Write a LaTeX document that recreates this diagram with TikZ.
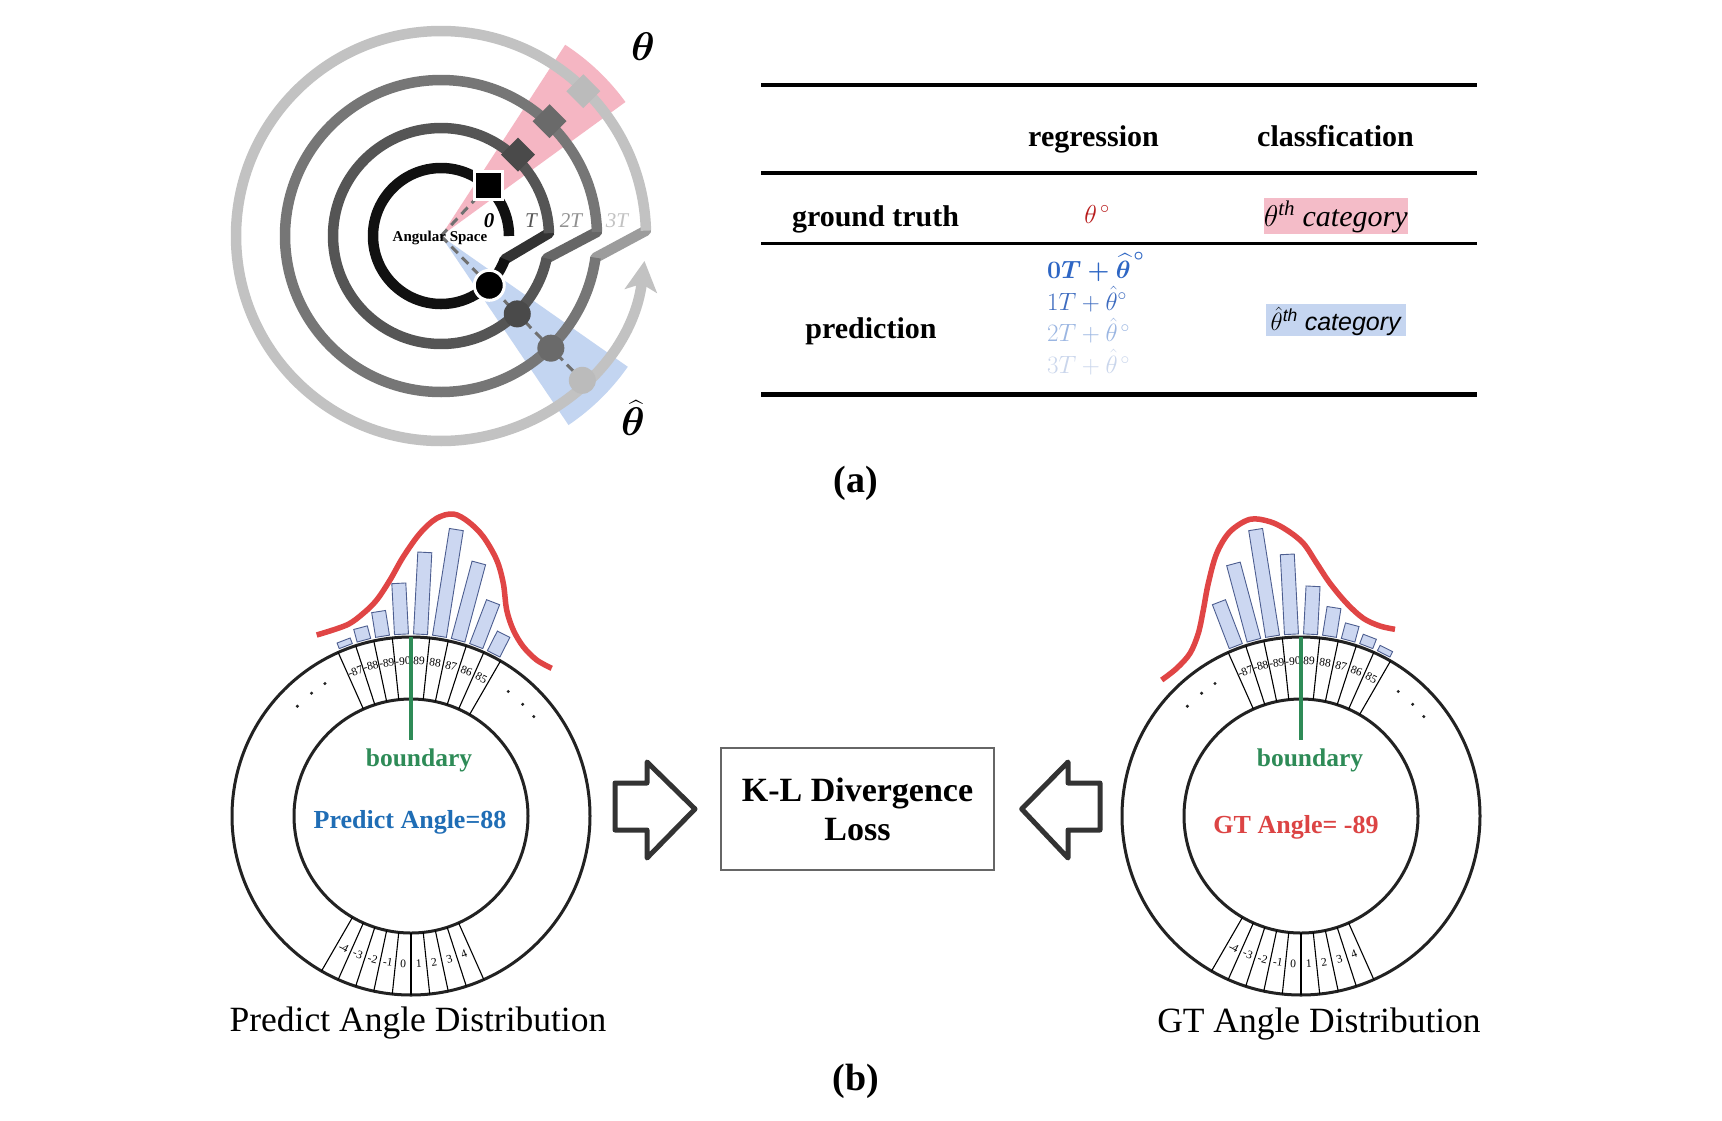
\RequirePackage{fix-cm}
\documentclass[tikz,border=0pt]{standalone}
\usepackage{amsmath}
\usepackage{fontspec}
\setmainfont{Liberation Serif}
\newfontfamily\sansf{Liberation Sans}
\usetikzlibrary{arrows.meta}
\definecolor{g0}{HTML}{111111}
\definecolor{g1}{HTML}{555555}
\definecolor{g2}{HTML}{767676}
\definecolor{g3}{HTML}{C2C2C2}
\definecolor{g01}{HTML}{333333}
\definecolor{g12}{HTML}{666666}
\definecolor{g23}{HTML}{9C9C9C}
\definecolor{g1m}{HTML}{4A4A4A}
\definecolor{g2m}{HTML}{6A6A6A}
\definecolor{g3m}{HTML}{BBBBBB}
\definecolor{wedgepink}{HTML}{F5B6C3}
\definecolor{wedgeblue}{HTML}{C3D5F1}
\definecolor{dashgray}{HTML}{707070}
\definecolor{thetared}{HTML}{B81C1C}
\definecolor{predA}{HTML}{2E66C4}
\definecolor{predB}{HTML}{3E6CC0}
\definecolor{predC}{HTML}{9BB6E2}
\definecolor{predD}{HTML}{CAD6EC}
\definecolor{pinkbox}{HTML}{F4BCC8}
\definecolor{bluebox}{HTML}{C5D5F0}
\definecolor{ringcol}{HTML}{222222}
\definecolor{barfill}{HTML}{CCD7F1}
\definecolor{baredge}{HTML}{4D5E90}
\definecolor{curvered}{HTML}{E04545}
\definecolor{bndgreen}{HTML}{2E8B57}
\definecolor{predblue}{HTML}{1F6DB5}
\definecolor{gtred}{HTML}{DC4444}
\definecolor{klgray}{HTML}{666666}
\definecolor{arrowgray}{HTML}{333333}
\tikzset{
  ringw/.style={line width=10.5},
  dashln/.style={draw=dashgray, line width=3, dash pattern=on 9pt off 6pt},
  sqm/.style={rectangle, inner sep=0, minimum size=24, draw=none},
  circm/.style={circle, inner sep=0, minimum size=27, draw=none},
  spiralab/.style={font=\fontsize{21}{21}\selectfont\itshape, inner sep=0},
  rule/.style={line width=4, draw=black},
  hdr/.style={font=\fontsize{30}{30}\selectfont\bfseries, anchor=base, inner sep=0},
  mathl/.style={font=\fontsize{25}{25}\selectfont, anchor=base west, inner sep=0},
  ringln/.style={line width=3, draw=ringcol},
  spoke/.style={line width=1.1, draw=black},
  celllab/.style={font=\fontsize{11.5}{11.5}\selectfont, inner sep=0},
  histbar/.style={fill=barfill, draw=baredge, line width=0.9},
  redcurve/.style={draw=curvered, line width=5.5},
  greenln/.style={draw=bndgreen, line width=4.8},
  blockarrow/.style={draw=arrowgray, line width=5, line join=round, fill=white},
}
\newcommand{\distring}[4]{%
\begin{scope}[shift={(#1,-#2)}]
\foreach \a/\L in {#3}{\draw[histbar, rotate=\a-90] (-7,182) rectangle (7,182+\L);}
\draw[ringln] (0,0) circle[radius=179];
\draw[ringln] (0,0) circle[radius=117];
\foreach \a in {60,66,...,114}{\draw[spoke] (\a:117) -- (\a:179);}
\foreach \a in {240,246,...,294}{\draw[spoke] (\a:117) -- (\a:179);}
\foreach \a/\lab in {111/-87,105/-88,99/-89,93/-90,87/89,81/88,75/87,69/86,63/85}{\node[celllab, rotate=\a-90] (#4t\a) at (\a:155) {\lab};}
\foreach \a/\lab in {243/-4,249/-3,255/-2,261/-1,267/0,273/1,279/2,285/3,291/4}{\node[celllab, rotate=\a-270] (#4b\a) at (\a:148) {\lab};}
\foreach \a in {123,129,136,39,45,52}{\fill[ringcol] (\a:158) circle[radius=1.7];}
\draw[greenln] (0,179) -- (0,76);
\end{scope}}
\begin{document}
\begin{tikzpicture}[x=1pt,y=1pt]
\fill[white] (0,0) rectangle (1722,-1120);
\path[use as bounding box] (0,0) rectangle (1722,-1120);

% ================= (a) spiral =================
\begin{scope}[shift={(441,-236)}]
\fill[wedgepink] (0,0) -- (36:228) arc[start angle=36,end angle=57,radius=228] -- cycle;
\fill[wedgeblue] (0,0) -- (-56:228) arc[start angle=-56,end angle=-35,radius=228] -- cycle;
\draw[dashln] (0,0) -- (47:58);
\draw[dashln] (0,0) -- (-45.6:201);
\draw[ringw, draw=g01, line cap=round] (340:68) -- (1.5:108);
\draw[ringw, draw=g12, line cap=round] (348:108) -- (1.5:156);
\draw[ringw, draw=g23, line cap=round] (352:156) -- (1.5:205);
\draw[ringw, draw=g0] (0:68) arc[start angle=0,end angle=340,radius=68];
\draw[ringw, draw=g1] (1.5:108) arc[start angle=1.5,end angle=348,radius=108];
\draw[ringw, draw=g2] (1.5:156) arc[start angle=1.5,end angle=352,radius=156];
\draw[ringw, draw=g3, -{Stealth[length=30pt,width=32pt,inset=7pt]}] (1.5:205) arc[start angle=1.5,end angle=353,radius=205];
\node[rectangle, inner sep=0, minimum size=28, fill=black, draw=white, line width=3] (sq0) at (47:69.6) {};
\node[sqm, fill=g1m, rotate=45] (sq1) at (46.6:112) {};
\node[sqm, fill=g2m, rotate=45] (sq2) at (46.6:158) {};
\node[sqm, fill=g3m, rotate=45] (sq3) at (45.5:203) {};
\node[circle, inner sep=0, minimum size=30, fill=black, draw=white, line width=3] (ci0) at (-45.6:69) {};
\node[circm, fill=g1m] (ci1) at (-45.6:109) {};
\node[circm, fill=g2m] (ci2) at (-45.6:157) {};
\node[circm, fill=g3m] (ci3) at (-45.6:202) {};
\end{scope}
\node[spiralab, text=black, font=\fontsize{21}{21}\selectfont\bfseries\itshape] (l0) at (489,-221) {0};
\node[spiralab, text=g1] (l1) at (531,-221) {T};
\node[spiralab, text=g2!80] (l2) at (571,-221) {2T};
\node[spiralab, text=g3] (l3) at (617,-221) {3T};
\node[font=\fontsize{15}{15}\selectfont\bfseries, inner sep=0] (as) at (440,-238) {Angular Space};
\node[font=\fontsize{40}{40}\selectfont, inner sep=0] (th) at (643,-47) {$\boldsymbol{\theta}$};
\node[font=\fontsize{40}{40}\selectfont, inner sep=0] (thh) at (633,-418) {$\boldsymbol{\widehat{\theta}}$};

% ================= (a) table =================
\draw[rule] (761,-85) -- (1477,-85);
\draw[rule] (761,-172.7) -- (1477,-172.7);
\draw[rule, line width=2.7] (761,-243.3) -- (1477,-243.3);
\draw[rule, line width=4.5] (761,-394.3) -- (1477,-394.3);
\node[hdr] (hreg) at (1093.5,-146) {regression};
\node[hdr] (hcls) at (1335.5,-146) {classfication};
\node[hdr] (hgt) at (875.5,-226) {ground truth};
\node[hdr] (hpr) at (871,-338) {prediction};
\node[font=\fontsize{26}{26}\selectfont, anchor=base, inner sep=0, text=thetared] (gtv) at (1097,-223) {$\theta^{\,\circ}$};
\node[mathl, text=predA] (m0) at (1047,-278.3) {$\boldsymbol{0T+\widehat{\theta}}^{\,\boldsymbol{\circ}}$};
\node[mathl, text=predB] (m1) at (1047,-310) {$1T+\hat{\theta}^{\circ}$};
\node[mathl, text=predC] (m2) at (1047,-341.7) {$2T+\hat{\theta}^{\,\circ}$};
\node[mathl, text=predD] (m3) at (1047,-373.3) {$3T+\hat{\theta}^{\,\circ}$};
\node[anchor=base, fill=pinkbox, minimum width=140, inner xsep=0, inner ysep=0, text height=28.4, text depth=7.6, font=\fontsize{30}{30}\selectfont\itshape] (pbox) at (1335.7,-226.7) {$\theta$\textsuperscript{th} category};
\node[anchor=base, fill=bluebox, minimum width=140, inner xsep=0, inner ysep=0, text height=26.4, text depth=5, font=\fontsize{25}{25}\sansf\itshape] (bbox) at (1335.7,-330.7) {$\hat{\theta}$\textsuperscript{th} category};
\node[font=\fontsize{38}{38}\selectfont\bfseries, inner sep=0] (capa) at (856,-483) {(a)};

% ================= (b) =================
\distring{411}{816}{111/6,105/13,99/25,93/51,87/82,81/108,75/80,69/47,63/22}{L}
\distring{1301}{816}{111/47,105/79,99/108,93/80,87/48,81/29,75/16,69/10,63/6}{R}
\draw[redcurve] plot[smooth, tension=0.55] coordinates {(316.7,-635) (346.7,-625) (363.3,-613.3) (376.7,-600) (390,-580) (403.3,-556.7) (420,-533.3) (436.7,-518.3) (453.3,-514) (468.3,-521.7) (483.3,-536.7) (496.7,-560) (503.3,-583.3) (506.7,-610) (513.3,-630) (523.3,-646.7) (536.7,-660) (551.7,-668.3)};
\draw[redcurve] plot[smooth, tension=0.55] coordinates {(1161.7,-680) (1176.7,-668.3) (1190,-653.3) (1198.3,-633.3) (1203.3,-610) (1208.3,-583.3) (1216.7,-553.3) (1230,-531.7) (1250,-519.3) (1270,-521.7) (1286.7,-530) (1303.3,-543.3) (1316.7,-563.3) (1330,-583.3) (1346.7,-603.3) (1363.3,-618.3) (1380,-626) (1395,-629.3)};
\node[anchor=base, inner sep=0, text=bndgreen, font=\fontsize{25.5}{25.5}\selectfont\bfseries] (bd1) at (419,-766) {boundary};
\node[anchor=base, inner sep=0, text=bndgreen, font=\fontsize{25.5}{25.5}\selectfont\bfseries] (bd2) at (1310,-766) {boundary};
\node[anchor=base, inner sep=0, text=predblue, font=\fontsize{26}{26}\selectfont\bfseries] (pang) at (410,-828) {Predict Angle=88};
\node[anchor=base, inner sep=0, text=gtred, font=\fontsize{26}{26}\selectfont\bfseries] (gang) at (1296,-833) {GT Angle= -89};
\node[anchor=base, inner sep=0, font=\fontsize{35.5}{35.5}\selectfont] (pdist) at (418,-1031) {Predict Angle Distribution};
\node[anchor=base, inner sep=0, font=\fontsize{35.5}{35.5}\selectfont] (gdist) at (1319,-1032) {GT Angle Distribution};
\node[draw=klgray, line width=1.5, minimum width=273, minimum height=122, inner sep=0, align=center, font=\fontsize{34}{39}\selectfont\bfseries] (kl) at (857.5,-809) {K-L Divergence\\Loss};
\draw[blockarrow] (615,-783) -- (647,-783) -- (647,-762) -- (695,-809) -- (647,-858) -- (647,-830) -- (615,-830) -- cycle;
\draw[blockarrow] (1100,-783) -- (1068,-783) -- (1068,-762) -- (1021.7,-809) -- (1068,-858) -- (1068,-830) -- (1100,-830) -- cycle;
\node[font=\fontsize{38}{38}\selectfont\bfseries, inner sep=0] (capb) at (856,-1081) {(b)};
\end{tikzpicture}
\end{document}
